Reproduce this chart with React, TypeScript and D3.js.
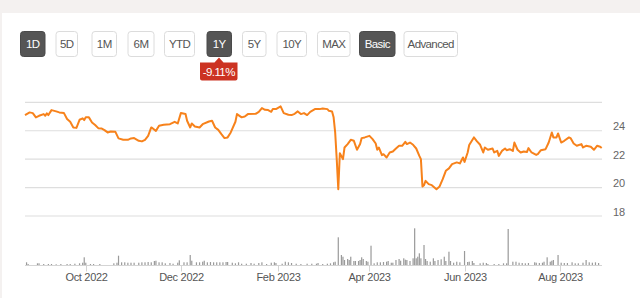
import React from "react";
import * as d3 from "d3";

const priceDates: string[] = [
  "2022-08-23","2022-08-26","2022-08-28","2022-08-30","2022-09-01","2022-09-04","2022-09-05","2022-09-06","2022-09-07","2022-09-09",
  "2022-09-12","2022-09-14","2022-09-17","2022-09-19","2022-09-21","2022-09-23","2022-09-25","2022-09-27","2022-09-29","2022-09-30",
  "2022-10-01","2022-10-03","2022-10-05","2022-10-07","2022-10-09","2022-10-11","2022-10-13","2022-10-15","2022-10-17","2022-10-20",
  "2022-10-22","2022-10-25","2022-10-28","2022-10-30","2022-11-01","2022-11-04","2022-11-06","2022-11-08","2022-11-10","2022-11-12",
  "2022-11-13","2022-11-15","2022-11-17","2022-11-20","2022-11-24","2022-11-27","2022-11-29","2022-12-01","2022-12-04","2022-12-05",
  "2022-12-07","2022-12-08","2022-12-10","2022-12-13","2022-12-15","2022-12-19","2022-12-21","2022-12-23","2022-12-25","2022-12-27",
  "2022-12-29","2022-12-31","2023-01-02","2023-01-05","2023-01-06","2023-01-09","2023-01-11","2023-01-13","2023-01-18","2023-01-20",
  "2023-01-22","2023-01-24","2023-01-26","2023-01-28","2023-01-29","2023-01-31","2023-02-03","2023-02-05","2023-02-08","2023-02-10",
  "2023-02-12","2023-02-14","2023-02-16","2023-02-18","2023-02-20","2023-02-22","2023-02-25","2023-02-26","2023-02-28","2023-03-02",
  "2023-03-05","2023-03-06","2023-03-08","2023-03-09","2023-03-10","2023-03-11","2023-03-12","2023-03-13","2023-03-15","2023-03-16",
  "2023-03-18","2023-03-20","2023-03-22","2023-03-24","2023-03-26","2023-03-27","2023-03-29","2023-04-01","2023-04-03","2023-04-05",
  "2023-04-06","2023-04-07","2023-04-09","2023-04-10","2023-04-12","2023-04-14","2023-04-16","2023-04-18","2023-04-20","2023-04-22",
  "2023-04-24","2023-04-25","2023-04-27","2023-04-29","2023-05-01","2023-05-03","2023-05-04","2023-05-05","2023-05-06","2023-05-07",
  "2023-05-09","2023-05-11","2023-05-14","2023-05-16","2023-05-18","2023-05-20","2023-05-22","2023-05-24","2023-05-27","2023-05-29",
  "2023-05-31","2023-06-01","2023-06-03","2023-06-04","2023-06-07","2023-06-09","2023-06-11","2023-06-13","2023-06-14","2023-06-16",
  "2023-06-19","2023-06-20","2023-06-22","2023-06-23","2023-06-25","2023-06-27","2023-06-28","2023-06-30","2023-07-02","2023-07-03",
  "2023-07-05","2023-07-07","2023-07-09","2023-07-11","2023-07-12","2023-07-14","2023-07-17","2023-07-18","2023-07-20","2023-07-23",
  "2023-07-25","2023-07-27","2023-07-28","2023-07-30","2023-07-31","2023-08-02","2023-08-04","2023-08-07","2023-08-08","2023-08-10",
  "2023-08-12","2023-08-15","2023-08-16","2023-08-18","2023-08-21","2023-08-23","2023-08-25","2023-08-27","2023-08-28"
];

const priceValues: number[] = [
  25.1,25.29,25.24,24.94,25.05,25.17,25.05,25.22,25.1,25.45,
  25.36,25.29,25.24,24.82,24.63,24.23,24.2,24.77,24.87,24.75,
  24.94,24.94,24.58,24.4,24.18,24.16,24.04,23.88,23.95,23.92,
  23.46,23.36,23.36,23.46,23.48,23.29,23.25,23.36,23.64,24.23,
  24.16,23.99,24.35,24.42,24.46,24.63,24.51,25.24,25.17,24.7,
  24.23,24.51,24.3,24.23,24.46,24.65,24.7,24.23,24.06,23.76,
  23.48,23.53,23.88,24.63,25.17,24.94,25.0,25.17,25.19,25.33,
  25.59,25.47,25.45,25.33,25.52,25.52,25.71,25.24,25.12,25.1,
  25.19,25.36,25.17,25.24,25.1,25.33,25.52,25.52,25.52,25.57,
  25.52,25.4,25.36,24.94,23.88,22.0,19.89,22.42,22.0,22.82,
  23.06,23.36,23.29,22.66,23.06,23.48,23.53,23.64,23.41,23.1,
  22.66,22.82,22.28,22.35,22.12,22.47,22.54,22.75,22.94,22.94,
  23.22,23.06,23.17,23.01,22.75,22.23,22.0,20.08,20.17,20.47,
  20.24,20.17,19.89,20.08,20.59,21.18,21.35,21.65,21.77,21.7,
  22.12,21.81,22.47,22.99,23.53,23.25,23.01,22.47,22.82,22.66,
  22.75,22.47,22.58,22.23,22.58,22.75,22.63,22.7,22.58,23.17,
  22.66,22.47,22.54,22.5,22.78,22.47,22.3,22.35,22.63,22.7,
  23.17,23.88,23.53,23.53,23.81,23.17,23.29,23.53,23.48,23.1,
  22.94,23.06,22.82,22.94,22.87,22.66,22.94,22.87,22.78
];

const volumeDates: string[] = [
  "2022-08-24","2022-08-25","2022-08-31","2022-09-01","2022-09-04","2022-09-07","2022-09-09","2022-09-12","2022-09-15","2022-09-19",
  "2022-09-21","2022-09-24","2022-09-27","2022-09-29","2022-09-30","2022-10-01","2022-10-04","2022-10-06","2022-10-10","2022-10-19",
  "2022-10-21","2022-10-22","2022-10-24","2022-10-26","2022-10-28","2022-10-30","2022-11-01","2022-11-04","2022-11-06","2022-11-08",
  "2022-11-10","2022-11-12","2022-11-14","2022-11-15","2022-11-17","2022-11-19","2022-11-21","2022-11-24","2022-11-26","2022-11-29",
  "2022-11-30","2022-12-03","2022-12-05","2022-12-07","2022-12-08","2022-12-11","2022-12-13","2022-12-15","2022-12-16","2022-12-18",
  "2022-12-20","2022-12-22","2022-12-24","2022-12-26","2022-12-28","2022-12-30","2022-12-31","2023-01-03","2023-01-05","2023-01-07",
  "2023-01-09","2023-01-12","2023-01-15","2023-01-17","2023-01-20","2023-01-22","2023-01-25","2023-01-28","2023-01-30","2023-01-31",
  "2023-02-04","2023-02-06","2023-02-08","2023-02-10","2023-02-13","2023-02-16","2023-02-20","2023-02-23","2023-02-26","2023-02-27",
  "2023-03-02","2023-03-05","2023-03-07","2023-03-09","2023-03-10","2023-03-12","2023-03-14","2023-03-15","2023-03-16","2023-03-18",
  "2023-03-19","2023-03-20","2023-03-22","2023-03-23","2023-03-25","2023-03-26","2023-03-27","2023-03-28","2023-03-30","2023-03-31",
  "2023-04-02","2023-04-04","2023-04-06","2023-04-08","2023-04-10","2023-04-12","2023-04-13","2023-04-15","2023-04-16","2023-04-18",
  "2023-04-20","2023-04-21","2023-04-23","2023-04-24","2023-04-25","2023-04-27","2023-04-29","2023-04-30","2023-05-01","2023-05-02",
  "2023-05-03","2023-05-04","2023-05-06","2023-05-07","2023-05-08","2023-05-10","2023-05-12","2023-05-13","2023-05-15","2023-05-17",
  "2023-05-19","2023-05-20","2023-05-22","2023-05-23","2023-05-25","2023-05-27","2023-05-29","2023-06-01","2023-06-03","2023-06-04",
  "2023-06-06","2023-06-07","2023-06-11","2023-06-13","2023-06-15","2023-06-16","2023-06-20","2023-06-23","2023-06-26","2023-06-28",
  "2023-06-29","2023-07-02","2023-07-04","2023-07-06","2023-07-08","2023-07-10","2023-07-12","2023-07-16","2023-07-17","2023-07-19",
  "2023-07-21","2023-07-22","2023-07-24","2023-07-26","2023-07-27","2023-07-28","2023-07-31","2023-08-02","2023-08-04","2023-08-06",
  "2023-08-09","2023-08-11","2023-08-13","2023-08-16","2023-08-18","2023-08-20","2023-08-22","2023-08-24","2023-08-26"
];

const volumeValues: number[] = [
  2.7,1,1.7,1.7,1,1,1,0.7,1,1,
  1,1.3,1.7,2.3,7.7,2.3,1,1,1,1.7,
  2.3,9.3,2.7,2.7,2.3,2.3,2.3,2.3,2.7,2.7,
  3,2.7,4,4.3,2.7,2.7,1.7,2,1.3,2.3,
  4.7,2.7,2.7,10,4.3,2.7,2.7,3.3,4.3,2.7,
  3,2.7,2.7,2.7,2.7,3,3,2.3,1.7,2.7,
  1.3,1.3,2,1.3,2,2.7,1,2.3,2.7,2,
  1.3,3.3,2.7,2,1.3,1,1.3,1.3,1.3,2,
  1,1.3,1.7,2.7,3.3,27.7,10,8.3,5,6,
  5,8.3,4,4,4,5,7.7,6,4,3.3,
  19.3,1.7,2.7,2.7,3,3.3,4,2.3,2.3,5,
  6,4.3,6.7,5.3,5,4,6.7,36.7,6.7,8.3,
  11.7,6.7,20,6,4,3.3,6.7,4,5,5.7,
  8.3,4,13.3,4,2.3,3.3,2.7,14,3,3.3,
  4,2,1.7,2.3,2,1,1,1,1.7,1.7,
  36,3.3,3.3,2.3,2,1.7,2,2.7,2.3,2,
  2.3,3.3,7.7,3.3,4.3,5,10,2.3,2,2,
  2.7,1.7,1.7,2.3,5,2.7,2.3,2.7,2
];

const priceTicks: number[] = [26, 24, 22, 20, 18];
const priceTickLabels: string[] = ["", "24", "22", "20", "18"];
const timeTicks: string[] = ["2022-10-01", "2022-12-01", "2023-02-01", "2023-04-01", "2023-06-01", "2023-08-01"];
const timeTickLabels: string[] = ["Oct 2022", "Dec 2022", "Feb 2023", "Apr 2023", "Jun 2023", "Aug 2023"];

const rangeButtons: string[] = ["1D", "5D", "1M", "6M", "YTD", "1Y", "5Y", "10Y", "MAX", "Basic", "Advanced"];
const activeButtons: string[] = ["1D", "1Y", "Basic"];
const changeLabel = "-9.11%";

const FONT = "'Liberation Sans', Arial, sans-serif";

export default function App() {
  const parse = d3.timeParse("%Y-%m-%d");
  const x = d3.scaleTime()
    .domain([new Date(2022, 7, 23), new Date(2023, 7, 28)])
    .range([25, 601.7]);
  const y = d3.scaleLinear().domain([18, 26]).range([216, 102.3]);
  const yv = d3.scaleLinear().domain([0, 40]).range([265, 225]);

  const pts = priceDates.map((d, i) => ({ date: parse(d) as Date, v: priceValues[i] }));
  const line = d3.line<{ date: Date; v: number }>()
    .x((d) => x(d.date))
    .y((d) => y(d.v));

  const btnW: Record<string, number> = {
    "1D": 24.5, "5D": 21.5, "1M": 24.5, "6M": 26, "YTD": 30, "1Y": 24.5,
    "5Y": 23.5, "10Y": 29.5, "MAX": 32.5, "Basic": 35.5, "Advanced": 53.5,
  };
  const btnX: Record<string, number> = {
    "1D": 20.5, "5D": 56, "1M": 92, "6M": 128, "YTD": 164.5, "1Y": 207,
    "5Y": 242.5, "10Y": 277, "MAX": 317.5, "Basic": 359.5, "Advanced": 404,
  };

  return (
    <svg
      width={640}
      height={298}
      style={{ position: "absolute", left: 0, top: 0, display: "block" }}
      fontFamily={FONT}
    >
      <rect x={0} y={0} width={640} height={298} fill="#f4f1f0" />
      <rect x={2} y={13} width={638} height={285} fill="#ffffff" />

      {rangeButtons.map((b) => {
        const active = activeButtons.includes(b);
        const bx = btnX[b];
        const bw = btnW[b];
        return (
          <g key={b}>
            <rect
              x={bx}
              y={31.5}
              width={bw}
              height={25}
              rx={3}
              fill={active ? "#555555" : "#ffffff"}
              stroke={active ? "#4a4a4a" : "#dcdcdc"}
              strokeWidth={1}
            />
            <text
              x={bx + bw / 2}
              y={48}
              textAnchor="middle"
              fontSize={11.5}
              fill={active ? "#ffffff" : "#555555"}
              style={{ letterSpacing: "-0.6px" }}
            >
              {b}
            </text>
          </g>
        );
      })}

      <path d="M200,62.5 L214.5,62.5 L219,57.5 L223.5,62.5 L237.5,62.5 L237.5,78.5 Q237.5,80.5 235.5,80.5 L202,80.5 Q200,80.5 200,78.5 Z" fill="#cc3322" />
      <text x={218.8} y={75.5} textAnchor="middle" fontSize={11.5} fill="#ffffff" style={{ letterSpacing: "-0.6px" }}>
        {changeLabel}
      </text>

      {priceTicks.map((t, i) => (
        <g key={t}>
          <line x1={25} x2={602} y1={y(t)} y2={y(t)} stroke="#dedede" strokeWidth={1.2} />
          {priceTickLabels[i] && (
            <text x={613} y={y(t) - 0.5} fontSize={11} fill="#666666">
              {priceTickLabels[i]}
            </text>
          )}
        </g>
      ))}

      {volumeDates.map((d, i) => {
        const xx = x(parse(d) as Date);
        return (
          <rect
            key={d}
            x={xx - 0.6}
            y={yv(volumeValues[i])}
            width={1.2}
            height={265 - yv(volumeValues[i])}
            fill="#9a9a9a"
          />
        );
      })}
      <line x1={25} x2={602} y1={265.5} y2={265.5} stroke="#d4d4d4" strokeWidth={1} />
      {timeTicks.map((t, i) => {
        const xx = Math.round(x(parse(t) as Date)) + 0.5;
        return (
          <g key={t}>
            <line x1={xx} x2={xx} y1={265.5} y2={271.5} stroke="#d4d4d4" strokeWidth={1} />
            <text x={xx} y={281} textAnchor="middle" fontSize={11} fill="#555555" style={{ letterSpacing: "-0.3px" }}>
              {timeTickLabels[i]}
            </text>
          </g>
        );
      })}

      <path d={line(pts) || ""} fill="none" stroke="#f7821b" strokeWidth={2} strokeLinejoin="round" />
    </svg>
  );
}
